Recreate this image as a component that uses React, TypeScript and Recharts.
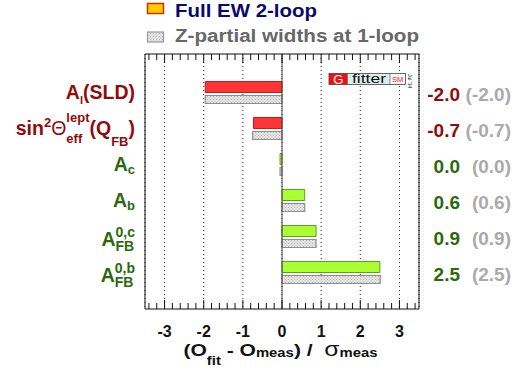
import React from 'react';
import { BarChart, Bar, XAxis, YAxis, CartesianGrid, ReferenceLine, Cell, Label } from 'recharts';

// ---------- data ----------
const categories = ['Al(SLD)', 'sin2theta_lept_eff(QFB)', 'Ac', 'Ab', 'AFB0c', 'AFB0b'];
const sectors = ['lepton', 'lepton', 'heavy', 'heavy', 'heavy', 'heavy'];
const fullEW = [-1.96, -0.73, -0.05, 0.58, 0.87, 2.5];
const zPartial = [-1.96, -0.75, -0.05, 0.58, 0.87, 2.51];
const fullEWLabels = ['-2.0', '-0.7', '0.0', '0.6', '0.9', '2.5'];
const zPartialLabels = ['(-2.0)', '(-0.7)', '(0.0)', '(0.6)', '(0.9)', '(2.5)'];
const majorTicks = [-3, -2, -1, 0, 1, 2, 3];
const minorTicks = [
  -3.4, -3.2, -2.8, -2.6, -2.4, -2.2, -1.8, -1.6, -1.4, -1.2, -0.8, -0.6, -0.4, -0.2,
  0.2, 0.4, 0.6, 0.8, 1.2, 1.4, 1.6, 1.8, 2.2, 2.4, 2.6, 2.8, 3.2, 3.4,
];
const xDomain = [-3.5, 3.5];
const legendLabels = ['Full EW 2-loop', 'Z-partial widths at 1-loop'];

const data = categories.map((cat, i) => ({ cat, full: fullEW[i], zpart: zPartial[i] }));
const allTicks = [...minorTicks, ...majorTicks].sort((a, b) => a - b);

// ---------- styles ----------
const FONT = '"Liberation Sans", Arial, Helvetica, sans-serif';
const labelColor: Record<string, string> = { lepton: '#8e0c0c', heavy: '#2b6a0c' };
const barFill: Record<string, string> = { lepton: '#ff3535', heavy: '#aaff33' };
const barStroke: Record<string, string> = { lepton: '#b52020', heavy: '#5e9c24' };
const yPad = { top: 20.5, bottom: 18.5 };

const BottomTick = (props: any) => {
  const { x, y, payload } = props;
  const major = majorTicks.includes(payload.value);
  return (
    <g>
      <line x1={x} x2={x} y1={y} y2={y - (major ? 9 : 6)} stroke="#111" strokeWidth={1} />
      {major && (
        <text x={x} y={y + 28.3} textAnchor="middle" fontSize={16} fontWeight="bold" fill="#111" fontFamily={FONT}>
          {String(payload.value)}
        </text>
      )}
    </g>
  );
};

const TopTick = (props: any) => {
  const { x, y, payload } = props;
  const major = majorTicks.includes(payload.value);
  return <line x1={x} x2={x} y1={y} y2={y + (major ? 9 : 6)} stroke="#111" strokeWidth={1} />;
};

const LeftTick = (props: any) => {
  const { x, y, payload } = props;
  const i = categories.indexOf(payload.value);
  const fill = labelColor[sectors[i]];
  const common: any = { x: x - 10, textAnchor: 'end', fontFamily: FONT, fontWeight: 'bold', fill, fontSize: 19.5 };
  switch (i) {
    case 0:
      return (
        <text {...common} y={y + 6.8}>
          A<tspan fontSize={11} dy={5}>l</tspan>
          <tspan dy={-5}>(SLD)</tspan>
        </text>
      );
    case 1:
      return (
        <text {...common} y={y + 6.5}>
          sin<tspan fontSize={13} dy={-8.5}>2</tspan>
          <tspan fontWeight="normal" dy={8.5}>Θ</tspan>
          <tspan fontSize={13} dy={7.7}>eff</tspan>
          <tspan fontSize={13} dx={-15.9} dy={-21}>lept</tspan>
          <tspan dy={13.3}>(Q</tspan>
          <tspan fontSize={13} dy={11}>FB</tspan>
          <tspan dy={-11}>)</tspan>
        </text>
      );
    case 2:
      return (
        <text {...common} y={y + 6.2}>
          A<tspan fontSize={13} dy={3.5}>c</tspan>
        </text>
      );
    case 3:
      return (
        <text {...common} y={y + 6.2}>
          A<tspan fontSize={13} dy={3}>b</tspan>
        </text>
      );
    case 4:
    case 5:
      return (
        <text {...common} y={y + 9.7}>
          A<tspan fontSize={14} dy={5}>FB</tspan>
          <tspan fontSize={14} dx={-18.7} dy={-14.2}>{i === 4 ? '0,c' : '0,b'}</tspan>
        </text>
      );
    default:
      return null;
  }
};

const RightTick = (props: any) => {
  const { x, y, payload } = props;
  const i = categories.indexOf(payload.value);
  return (
    <g fontFamily={FONT} fontWeight="bold" fontSize={19}>
      <text x={x + 41} y={y + 8} textAnchor="end" fill={labelColor[sectors[i]]}>
        {fullEWLabels[i]}
      </text>
      <text x={x + 92} y={y + 8} textAnchor="end" fill="#aaaaaa">
        {zPartialLabels[i]}
      </text>
    </g>
  );
};

const XTitle = (props: any) => {
  const vb = props.viewBox || { x: 145, y: 309, width: 274, height: 76 };
  const cx = vb.x + vb.width / 2 - 1.5;
  return (
    <text
      x={cx}
      y={vb.y + 47}
      textAnchor="middle"
      fontFamily={FONT}
      fontWeight="bold"
      fontSize={17}
      fill="#111"
      textLength={194}
      lengthAdjust="spacingAndGlyphs"
      style={{ whiteSpace: 'pre' }}
    >
      (O<tspan fontSize={12} dy={9}>fit</tspan>
      <tspan dy={-9}> - O</tspan>
      <tspan fontSize={12} dy={0.5}>meas</tspan>
      <tspan dy={-0.5}>{') /  '}</tspan>
      <tspan fontWeight="normal" fontSize={20}>σ</tspan>
      <tspan fontSize={12} dy={0.5}>meas</tspan>
    </text>
  );
};

const Overlay = () => (
  <svg width={513} height={385} style={{ position: 'absolute', left: 0, top: 0, pointerEvents: 'none' }}>
    {/* legend */}
    <rect x={147.5} y={3.5} width={16} height={10} fill="#ffcc00" stroke="#cc3300" strokeWidth={1.5} />
    <text x={175} y={17} fontFamily={FONT} fontWeight="bold" fontSize={18} fill="#0a0a6e" textLength={142} lengthAdjust="spacingAndGlyphs">
      {legendLabels[0]}
    </text>
    <rect x={147.5} y={32} width={16} height={10} fill="url(#zhatch)" stroke="#9a9a9a" strokeWidth={1.2} />
    <text x={175} y={42.3} fontFamily={FONT} fontWeight="bold" fontSize={18} fill="#676767" textLength={244} lengthAdjust="spacingAndGlyphs">
      {legendLabels[1]}
    </text>
    {/* Gfitter logo */}
    <g fontFamily={FONT}>
      <rect x={329} y={73.5} width={18.5} height={11} fill="#ee1111" />
      <text x={338.2} y={83.5} textAnchor="middle" fontSize={13} fill="#fff">G</text>
      <rect x={347.5} y={73.5} width={42.5} height={11} fill="#dcecec" />
      <text x={352} y={83.3} fontSize={13} fill="#111" textLength={34} lengthAdjust="spacingAndGlyphs">fitter</text>
      <rect x={390} y={73.5} width={15.5} height={11} fill="#fff" />
      <text x={397.7} y={82.3} textAnchor="middle" fontSize={7.5} fill="#ee1111">SM</text>
      <rect x={329} y={73.5} width={76.5} height={11} fill="none" stroke="#444" strokeWidth={0.8} />
      <line x1={347.5} x2={347.5} y1={73.5} y2={84.5} stroke="#444" strokeWidth={0.6} />
      <line x1={390} x2={390} y1={73.5} y2={84.5} stroke="#444" strokeWidth={0.6} />
      <text transform="translate(408.3,74) rotate(90)" fontSize={5} fill="#222">Jul '14</text>
    </g>
  </svg>
);

export default function App() {
  return (
    <div style={{ position: 'absolute', left: 0, top: 0, width: 513, height: 385, background: '#fff' }}>
      <BarChart
        width={513}
        height={385}
        data={data}
        layout="vertical"
        margin={{ top: 24, right: 0, bottom: 0, left: 0 }}
        barGap={3}
      >
        <defs>
          <pattern id="zhatch" width={3} height={3} patternUnits="userSpaceOnUse">
            <rect x={0} y={0} width={3} height={3} fill="#e4e4e4" />
            <rect x={0} y={0} width={1} height={1} fill="#b4b4b4" />
            <rect x={1.5} y={1.5} width={1} height={1} fill="#c4c4c4" />
          </pattern>
        </defs>
        <XAxis xAxisId="grid" type="number" domain={xDomain} ticks={majorTicks} hide allowDataOverflow />
        <XAxis
          xAxisId="top"
          orientation="top"
          type="number"
          domain={xDomain}
          ticks={allTicks}
          interval={0}
          height={30}
          tickSize={0}
          tickMargin={0}
          tickLine={false}
          axisLine={{ stroke: '#111', strokeWidth: 1 }}
          tick={(p: any) => <TopTick {...p} />}
          allowDataOverflow
        />
        <XAxis
          xAxisId="bottom"
          orientation="bottom"
          type="number"
          domain={xDomain}
          ticks={allTicks}
          interval={0}
          height={76}
          tickSize={0}
          tickMargin={0}
          tickLine={false}
          axisLine={{ stroke: '#111', strokeWidth: 1 }}
          tick={(p: any) => <BottomTick {...p} />}
          allowDataOverflow
        >
          <Label content={(p: any) => <XTitle {...p} />} />
        </XAxis>
        <YAxis
          yAxisId="left"
          type="category"
          dataKey="cat"
          width={145}
          padding={yPad}
          interval={0}
          tickSize={0}
          tickMargin={0}
          tickLine={false}
          axisLine={{ stroke: '#111', strokeWidth: 1 }}
          tick={(p: any) => <LeftTick {...p} />}
        />
        <YAxis
          yAxisId="right"
          orientation="right"
          type="category"
          dataKey="cat"
          width={94}
          padding={yPad}
          interval={0}
          tickSize={0}
          tickMargin={0}
          tickLine={false}
          axisLine={{ stroke: '#111', strokeWidth: 1 }}
          tick={(p: any) => <RightTick {...p} />}
        />
        <CartesianGrid
          xAxisId="grid"
          yAxisId="left"
          horizontal={false}
          vertical
          stroke="#222"
          strokeDasharray="1 3"
        />
        <Bar xAxisId="bottom" yAxisId="left" dataKey="full" barSize={11} strokeWidth={1} isAnimationActive={false}>
          {data.map((d, i) => (
            <Cell key={d.cat} fill={barFill[sectors[i]]} stroke={barStroke[sectors[i]]} />
          ))}
        </Bar>
        <Bar
          xAxisId="bottom"
          yAxisId="left"
          dataKey="zpart"
          barSize={8}
          fill="url(#zhatch)"
          stroke="#8f8f8f"
          strokeWidth={1.2}
          isAnimationActive={false}
        />
        <ReferenceLine xAxisId="bottom" yAxisId="left" x={0} stroke="#444" strokeWidth={1} />
      </BarChart>
      <Overlay />
    </div>
  );
}
